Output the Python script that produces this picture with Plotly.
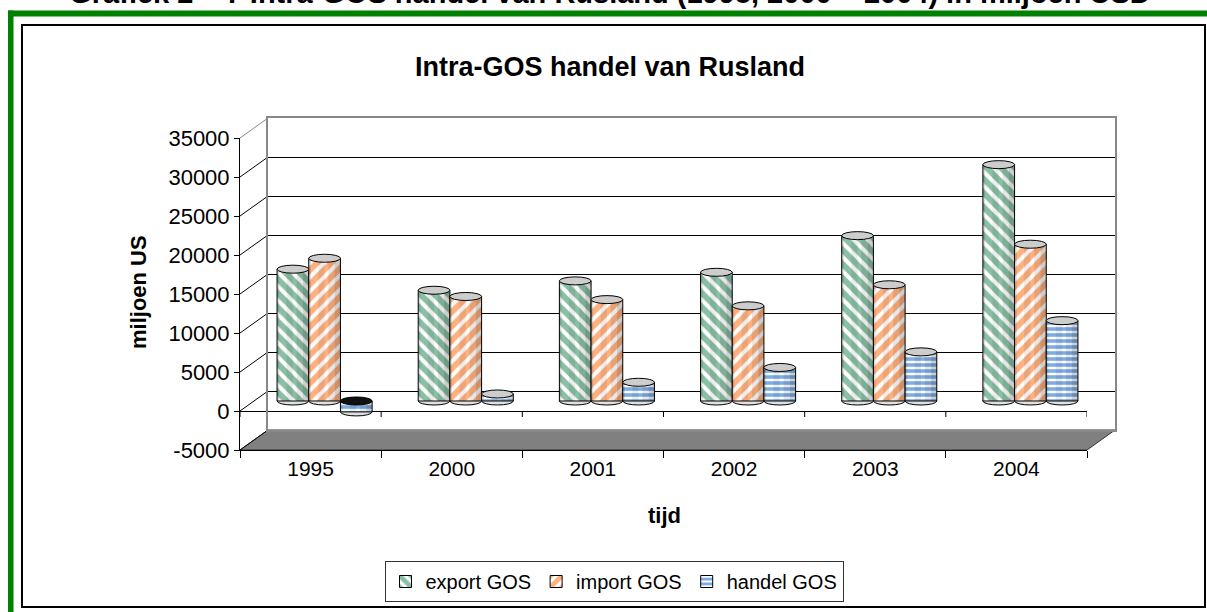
import plotly.graph_objects as go

# ---------------- data ----------------
years = ["1995", "2000", "2001", "2002", "2003", "2004"]
export_gos = [16900, 14200, 15400, 16500, 21200, 30300]
import_gos = [18300, 13400, 13000, 12200, 14900, 20100]
handel_gos = [-1400, 900, 2400, 4300, 6300, 10300]
series_names = ["export GOS", "import GOS", "handel GOS"]
y_ticks = list(range(-5000, 35001, 5000))
y_tick_labels = [str(v) for v in y_ticks]
page_title = "Grafiek 2 – 7 Intra-GOS handel van Rusland (1995, 2000 – 2004) in miljoen USD"

# ---------------- geometry / style ----------------
W, H = 1207, 612
FONT = "Liberation Sans, Arial, sans-serif"
Y_MIN, Y_MAX = -5000, 35000


def px(x):
    return x / W


def py(y):
    return 1 - y / H


FX0, FX1 = 240, 1087          # front plane x extent
FY_TOP, FY_BOT = 138, 450     # front plane y for Y_MAX / Y_MIN
DX, DY = 28, -20              # offset of back wall
BX, BY = 14, -10              # offset of the bar plane
scale = (FY_BOT - FY_TOP) / (Y_MAX - Y_MIN)


def yfront(v):
    return FY_BOT - (v - Y_MIN) * scale


colors = ["#16804A", "#FF6200", "#005CC8"]
shapes_pat = ["\\", "/", "-"]
pat_sizes = [10, 10, 6]
pat_solid = [0.6, 0.6, 0.6]
series_vals = [export_gos, import_gos, handel_gos]

fig = go.Figure()

# --- front axes (xy): tick labels, axis lines, zero line
fig.add_trace(go.Scatter(x=years, y=[None] * len(years), xaxis="x", yaxis="y",
                         showlegend=False, hoverinfo="skip"))

# --- back wall axes (x2y2): gridlines
fig.add_trace(go.Scatter(x=years, y=[None] * len(years), xaxis="x2", yaxis="y2",
                         showlegend=False, hoverinfo="skip"))

# --- bars (x3y3)
bw = 0.2245
group_off = -1.5 * bw
shade = [(0.0, 0.07, "rgba(0,0,0,0.12)"),
         (0.30, 0.50, "rgba(0,0,0,0.07)"),
         (0.62, 1.0, "rgba(0,0,0,0.09)"),
         (0.82, 1.0, "rgba(0,0,0,0.11)")]

shape_list = []
e = 4 / scale  # half height of cylinder caps, in data units

for k, (name, vals, col, pat, psz, sol) in enumerate(zip(series_names, series_vals, colors,
                                                          shapes_pat, pat_sizes, pat_solid)):
    off = group_off + k * bw
    fig.add_trace(go.Bar(
        x=years, y=vals, xaxis="x3", yaxis="y3", name=name,
        offset=off, width=bw,
        marker=dict(color="#ffffff", line=dict(color="black", width=1),
                    pattern=dict(shape=pat, fgcolor=col, bgcolor="#ffffff",
                                 size=psz, solidity=sol)),
        hoverinfo="x+y+name",
    ))
    for s0, s1, rgba in shade:
        fig.add_trace(go.Bar(
            x=years, y=vals, xaxis="x3", yaxis="y3", showlegend=False,
            offset=off + s0 * bw, width=(s1 - s0) * bw,
            marker=dict(color=rgba, line=dict(width=0)), hoverinfo="skip",
        ))
    for i, v in enumerate(vals):
        top = max(v, 0)
        bot = min(v, 0)
        shape_list.append(dict(type="circle", xref="x3", yref="y3", layer="below",
                               x0=i + off, x1=i + off + bw, y0=bot - e, y1=bot + e,
                               fillcolor="#e0e0e0", line=dict(color="black", width=1)))
        shape_list.append(dict(type="circle", xref="x3", yref="y3", layer="above",
                               x0=i + off, x1=i + off + bw, y0=top - e, y1=top + e,
                               fillcolor="#111111" if v < 0 else "#cdcdcd",
                               line=dict(color="black", width=1)))

# --- page title, clipped at the top by its own (invisible) subplot
fig.add_trace(go.Scatter(x=[0], y=[0], mode="text", text=["<b>" + page_title + "</b>"],
                         textposition="top center", cliponaxis=True,
                         textfont=dict(family=FONT, size=29, color="black"),
                         xaxis="x4", yaxis="y4", showlegend=False, hoverinfo="skip"))

# --- floor
floor_path = "M {} {} L {} {} L {} {} L {} {} Z".format(
    px(FX0), py(FY_BOT), px(FX1), py(FY_BOT),
    px(FX1 + DX), py(FY_BOT + DY), px(FX0 + DX), py(FY_BOT + DY))
shape_list.insert(0, dict(type="path", xref="paper", yref="paper", path=floor_path,
                          fillcolor="#808080", line=dict(color="#333333", width=1),
                          layer="below"))

# --- side wall lines (left)
for v in y_ticks:
    yf = yfront(v)
    shape_list.append(dict(type="line", xref="paper", yref="paper", layer="below",
                           x0=px(FX0), y0=py(yf), x1=px(FX0 + DX), y1=py(yf + DY),
                           line=dict(color="#888888" if v == Y_MAX else "black", width=1)))

# --- ticks on the zero line at category boundaries
for b in range(len(years) + 1):
    shape_list.append(dict(type="line", xref="x", yref="y", layer="below",
                           x0=b - 0.5, x1=b - 0.5, y0=0, y1=-6 / scale,
                           line=dict(color="black", width=1)))

# --- page frame
shape_list += [
    dict(type="rect", xref="paper", yref="paper", x0=px(8), x1=1, y0=py(16.5), y1=py(10.5),
         fillcolor="#008000", line=dict(width=0), layer="above"),
    dict(type="rect", xref="paper", yref="paper", x0=px(8), x1=px(13.5), y0=0, y1=py(10.5),
         fillcolor="#008000", line=dict(width=0), layer="above"),
    dict(type="rect", xref="paper", yref="paper", x0=px(22), x1=px(1205), y0=py(607), y1=py(25),
         fillcolor="rgba(0,0,0,0)", line=dict(color="black", width=2), layer="above"),
]

annotations = [
    dict(text="<b>Intra-GOS handel van Rusland</b>", xref="paper", yref="paper",
         x=px(610), y=py(67), xanchor="center", yanchor="middle", showarrow=False,
         font=dict(family=FONT, size=27, color="black")),
    dict(text="<b>miljoen US</b>", xref="paper", yref="paper", textangle=-90,
         x=px(138), y=py(292), xanchor="center", yanchor="middle", showarrow=False,
         font=dict(family=FONT, size=22, color="black")),
    dict(text="<b>tijd</b>", xref="paper", yref="paper",
         x=px(664), y=py(515), xanchor="center", yanchor="middle", showarrow=False,
         font=dict(family=FONT, size=22, color="black")),
]

axis_font = dict(family=FONT, size=21, color="black")
ytick_font = dict(family=FONT, size=22, color="black")

fig.update_layout(
    width=W, height=H, autosize=False,
    margin=dict(l=0, r=0, t=0, b=0, pad=0),
    paper_bgcolor="white", plot_bgcolor="rgba(0,0,0,0)",
    barmode="overlay",
    showlegend=True,
    legend=dict(orientation="h", x=px(614), xanchor="center", y=py(561), yanchor="top",
                bgcolor="white", bordercolor="#333333", borderwidth=1,
                font=dict(family=FONT, size=20, color="black"), itemwidth=30,
                traceorder="normal"),
    # front axes
    xaxis=dict(domain=[px(FX0), px(FX1)], type="category", categoryarray=years,
               categoryorder="array", range=[-0.5, len(years) - 0.5],
               tickson="boundaries", ticks="outside", ticklen=7, tickcolor="black",
               showline=True, linecolor="black", linewidth=1, showgrid=False,
               zeroline=False, tickfont=axis_font, anchor="y", fixedrange=True,
               automargin=False),
    yaxis=dict(domain=[py(FY_BOT), py(FY_TOP)], range=[Y_MIN, Y_MAX], tickvals=y_ticks,
               ticktext=y_tick_labels,
               ticks="outside", ticklen=5, tickcolor="black", showline=True,
               linecolor="black", linewidth=1, showgrid=False, zeroline=True,
               zerolinecolor="black", zerolinewidth=1, tickfont=ytick_font,
               anchor="x", fixedrange=True, automargin=False),
    # back wall
    xaxis2=dict(domain=[px(FX0 + DX), px(FX1 + DX)], type="category", categoryarray=years,
                categoryorder="array", range=[-0.5, len(years) - 0.5],
                showticklabels=False, ticks="", showgrid=False, zeroline=False,
                showline=True, mirror=True, linecolor="#888888", linewidth=2,
                anchor="y2", fixedrange=True),
    yaxis2=dict(domain=[py(FY_BOT + DY), py(FY_TOP + DY)], range=[Y_MIN, Y_MAX],
                tickvals=y_ticks, showticklabels=False, ticks="", showgrid=True,
                gridcolor="black", gridwidth=1, zeroline=False, showline=True,
                mirror=True, linecolor="#888888", linewidth=2, anchor="x2",
                fixedrange=True),
    # bars plane
    xaxis3=dict(domain=[px(FX0 + BX), px(FX1 + BX)], type="category", categoryarray=years,
                categoryorder="array", range=[-0.5, len(years) - 0.5], visible=False,
                anchor="y3", fixedrange=True),
    yaxis3=dict(domain=[py(FY_BOT + BY), py(FY_TOP + BY)], range=[Y_MIN, Y_MAX],
                visible=False, anchor="x3", fixedrange=True),
    # page-title strip
    xaxis4=dict(domain=[0, 1], range=[-610 / W, 597 / W], visible=False, anchor="y4",
                fixedrange=True),
    yaxis4=dict(domain=[py(16), 1], range=[-0.6, 1], visible=False, anchor="x4",
                fixedrange=True),
    shapes=shape_list,
    annotations=annotations,
)

fig.write_html("out.html",
               config={"displayModeBar": False},
               post_script="document.body.style.margin='0px';"
                           "document.body.style.overflow='hidden';")
